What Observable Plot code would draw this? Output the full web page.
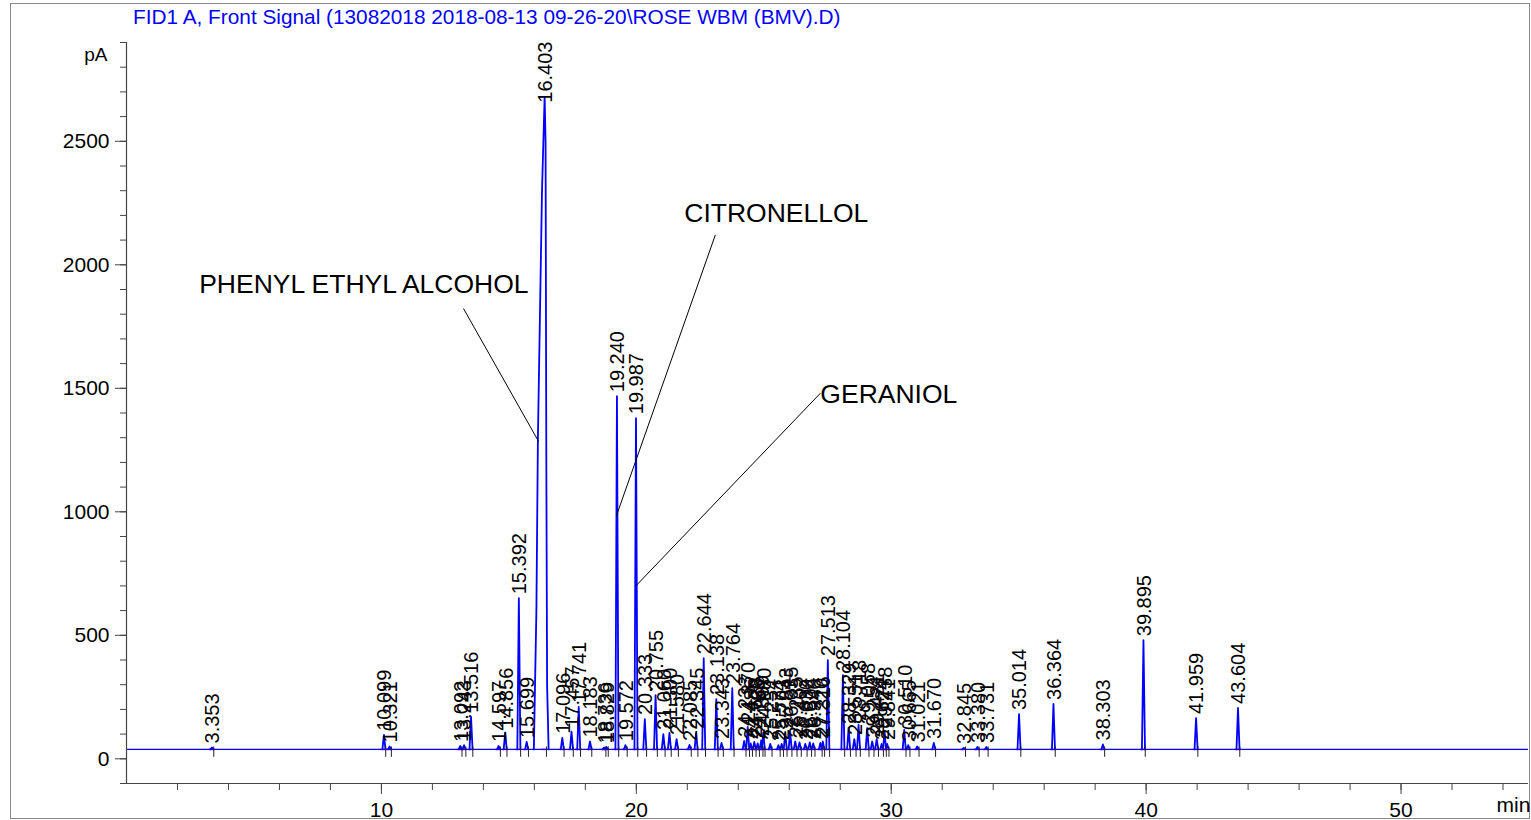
<!DOCTYPE html>
<html>
<head>
<meta charset="utf-8">
<script src="https://cdn.jsdelivr.net/npm/d3@7"></script>
<script src="https://cdn.jsdelivr.net/npm/@observablehq/plot@0.6"></script>
<style>
body { margin: 0; background: #fff; }
#wrap { position: relative; width: 1531px; height: 820px; overflow: hidden; font-family: "Liberation Sans", Arial, sans-serif; }
#title { position: absolute; left: 133px; top: 7px; font-size: 20.8px; line-height: 20px; color: #0000ff; white-space: nowrap; }
#border { position: absolute; left: 10px; top: 3px; width: 1520px; height: 816px; border: 1px solid #888; box-sizing: border-box; }
#chart { position: absolute; left: 0; top: 0; }
</style>
</head>
<body>
<div id="wrap">
  <div id="border"></div>
  <div id="chart"></div>
  <div id="title">FID1 A, Front Signal (13082018 2018-08-13 09-26-20\ROSE WBM (BMV).D)</div>
</div>
<script>
// ---- data ----
const baseline = 38; // pA
const retentionTimes = [
  3.353, 10.099, 10.321, 13.092, 13.243, 13.516, 14.597, 14.856, 15.392, 15.699,
  16.403, 17.096, 17.457, 17.741, 18.183, 18.736, 18.829, 19.240, 19.572, 19.987,
  20.333, 20.755, 21.060, 21.300, 21.580, 22.085, 22.345, 22.644, 23.138, 23.343,
  23.764, 24.233, 24.370, 24.486, 24.628, 24.760, 24.899, 24.980, 25.254, 25.574,
  25.703, 25.843, 26.035, 26.235, 26.402, 26.630, 26.804, 26.940, 27.220, 27.316,
  27.513, 28.104, 28.329, 28.551, 28.718, 29.058, 29.254, 29.431, 29.624, 29.738,
  29.841, 30.510, 30.665, 31.021, 31.670, 32.845, 33.380, 33.731, 35.014, 36.364,
  38.303, 39.895, 41.959, 43.604
];
const peakHeights = [
  46, 97, 50, 52, 55, 170, 52, 105, 650, 68,
  2680, 85, 110, 210, 70, 46, 48, 1468, 55, 1379,
  161, 258, 100, 105, 80, 56, 105, 407, 242, 64,
  286, 72, 129, 62, 68, 62, 75, 105, 60, 55,
  60, 105, 109, 70, 66, 60, 66, 62, 64, 70,
  399, 339, 125, 80, 137, 124, 70, 80, 60, 109,
  60, 117, 55, 50, 64, 44, 48, 48, 181, 222,
  58, 480, 165, 206
];
// main (phenyl ethyl alcohol) peak profile
const mainPeakTimes  = [15.98, 16.08, 16.14, 16.30, 16.403, 16.44, 16.47, 16.50, 16.56];
const mainPeakSignal = [38, 600, 1300, 2300, 2680, 2500, 1200, 300, 38];

const annotationNames = ["PHENYL ETHYL ALCOHOL", "CITRONELLOL", "GERANIOL"];
const annotationTextTime = [2.85, 21.88, 27.22];
const annotationTextSignal = [1885, 2175, 1440];
const annotationFromTime = [13.22, 23.10, 27.22];
const annotationFromSignal = [1823, 2121, 1480];
const annotationToTime = [16.16, 19.22, 20.00];
const annotationToSignal = [1286, 984, 702];

// ---- build tables ----
const peaks = retentionTimes.map((t, i) => ({rt: t, h: peakHeights[i], label: d3.format(".3f")(t)}));
const halfWidth = 0.06;
const trace = [];
peaks.forEach((p, i) => {
  if (p.rt === 16.403) {
    mainPeakTimes.forEach((t, j) => trace.push({id: i, t, v: mainPeakSignal[j]}));
  } else {
    trace.push({id: i, t: p.rt - halfWidth, v: baseline});
    trace.push({id: i, t: p.rt, v: p.h});
    trace.push({id: i, t: p.rt + halfWidth, v: baseline});
  }
});
const annotations = annotationNames.map((n, i) => ({
  name: n, tx: annotationTextTime[i], ty: annotationTextSignal[i],
  x1: annotationFromTime[i], y1: annotationFromSignal[i],
  x2: annotationToTime[i], y2: annotationToSignal[i]
}));

const chart = Plot.plot({
  width: 1531,
  height: 820,
  marginLeft: 126,
  marginRight: 3,
  marginTop: 42,
  marginBottom: 37,
  x: {domain: [0, 55]},
  y: {domain: [-100, 2900]},
  style: {fontFamily: "'Liberation Sans', Arial, sans-serif", fontSize: "18px", background: "transparent", color: "#000"},
  marks: [
    // integration baseline segments
    Plot.ruleY(peaks, {y: () => baseline, x1: d => d.rt - 0.12, x2: d => d.rt + 0.12, stroke: "#ff00ff", strokeWidth: 1.5}),
    // baseline of the signal
    Plot.ruleY([baseline], {stroke: "#0000ff", strokeWidth: 1.2}),
    // peaks
    Plot.line(trace, {x: "t", y: "v", z: "id", stroke: "#0000ff", strokeWidth: 1.8}),
    // integration event ticks
    Plot.ruleX(peaks, {x: d => d.rt + 0.07, y1: baseline + 10, y2: baseline - 32, stroke: "#222", strokeWidth: 1}),
    // axis lines
    Plot.ruleX([0], {stroke: "#444", strokeWidth: 1.2}),
    Plot.ruleY([-100], {stroke: "#444", strokeWidth: 1.2}),
    Plot.axisX({ticks: [10, 20, 30, 40, 50], tickSize: 11, tickPadding: 8, tickFormat: d3.format("d"), label: null, fontSize: 21, stroke: "#444"}),
    Plot.axisX({ticks: d3.range(2, 55, 2), tickSize: 7, tickFormat: () => "", label: null, stroke: "#444"}),
    Plot.axisY({ticks: d3.range(0, 2501, 500), tickSize: 11, tickPadding: 6, tickFormat: d3.format("d"), label: null, fontSize: 21, stroke: "#444"}),
    Plot.axisY({ticks: d3.range(-100, 2901, 100), tickSize: 6, tickFormat: () => "", label: null, stroke: "#444"}),
    Plot.text(["pA"], {frameAnchor: "top-left", dx: -19, dy: 5, textAnchor: "end", fontSize: 19}),
    Plot.text(["min"], {frameAnchor: "bottom-right", dx: -32, dy: 28, textAnchor: "start", fontSize: 21}),
    // peak retention time labels
    Plot.text(peaks, {x: "rt", y: d => Math.min(d.h, 2640), text: "label", rotate: -90, textAnchor: "start", dy: -4, dx: 1, fontSize: 20, fill: "#000"}),
    // compound annotations
    Plot.link(annotations, {x1: "x1", y1: "y1", x2: "x2", y2: "y2", stroke: "#000", strokeWidth: 1}),
    Plot.text(annotations, {x: "tx", y: "ty", text: "name", textAnchor: "start", lineAnchor: "bottom", fontSize: 26.5, fill: "#000"})
  ]
});
document.getElementById("chart").appendChild(chart);
</script>
</body>
</html>
